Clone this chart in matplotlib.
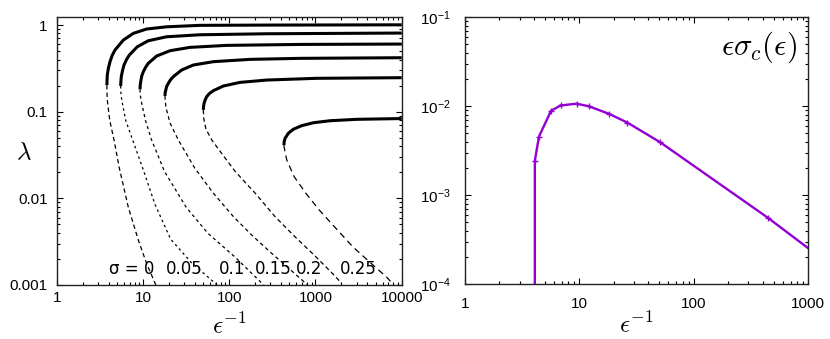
import matplotlib
matplotlib.use('Agg')
import matplotlib.pyplot as plt
from matplotlib.ticker import FixedLocator, FixedFormatter, LogLocator, NullFormatter

plt.rcParams['font.family'] = ['Liberation Sans', 'DejaVu Sans']
plt.rcParams['mathtext.fontset'] = 'cm'

# ---------------- data: left panel (lambda vs 1/eps) ----------------
sigma_labels = ['σ = 0', '0.05', '0.1', '0.15', '0.2', '0.25']
label_x = [7.4, 30.1, 108, 325, 847, 3140]
label_y = 0.00155

upper_x = [
    [3.82, 3.84, 3.86, 3.97, 4.15, 4.40, 4.74, 5.92, 7.73, 11.0, 18.8, 45.8, 272, 10000],
    [5.52, 5.55, 5.61, 5.78, 6.03, 6.43, 6.95, 8.61, 11.5, 18.8, 45.8, 272, 10000],
    [9.25, 9.29, 9.42, 9.66, 10.09, 10.7, 11.5, 14.4, 20.6, 35.1, 93.5, 662, 10000],
    [18.0, 18.1, 18.4, 18.8, 19.7, 20.9, 22.5, 28.1, 38.4, 65.5, 174, 662, 10000],
    [50.1, 50.4, 51.1, 52.5, 54.8, 58.9, 65.5, 85.5, 133, 272, 1033, 10000],
    [431, 434, 444, 485, 553, 692, 946, 1476, 3006, 10000],
]
upper_lam = [
    [0.203, 0.234, 0.265, 0.316, 0.378, 0.447, 0.515, 0.671, 0.802, 0.900, 0.955, 0.993, 1.0, 1.007],
    [0.198, 0.224, 0.254, 0.295, 0.346, 0.398, 0.451, 0.562, 0.659, 0.733, 0.773, 0.794, 0.809],
    [0.181, 0.200, 0.222, 0.257, 0.289, 0.324, 0.361, 0.439, 0.506, 0.553, 0.583, 0.598, 0.604],
    [0.152, 0.166, 0.178, 0.195, 0.213, 0.234, 0.254, 0.303, 0.346, 0.378, 0.402, 0.413, 0.420],
    [0.105, 0.115, 0.125, 0.136, 0.149, 0.162, 0.175, 0.198, 0.218, 0.232, 0.243, 0.247],
    [0.0412, 0.0452, 0.0493, 0.0564, 0.0627, 0.0690, 0.0746, 0.0787, 0.0817, 0.0834],
]
lower_x = [
    [3.82, 3.83, 3.86, 4.12, 4.62, 5.32, 6.76, 8.83, 11.0, 14.1],
    [5.52, 5.55, 5.68, 6.31, 7.59, 10.0, 13.8, 20.9, 36.3, 72.4],
    [9.25, 9.29, 9.66, 10.7, 12.6, 17.8, 31.6, 56.2, 117.5, 251],
    [18.0, 18.1, 18.5, 20.6, 25.7, 39.8, 65.5, 112, 182, 309, 490, 692, 813],
    [50.1, 50.7, 53.7, 63.1, 93.3, 117.5, 200, 339, 575, 1000, 1698, 1995],
    [431, 436, 447, 465, 566, 773, 1104, 1722, 2692, 4198, 6699, 7413],
]
lower_lam = [
    [0.203, 0.166, 0.1365, 0.0794, 0.0472, 0.0224, 0.00794, 0.00331, 0.00178, 0.001],
    [0.198, 0.166, 0.1365, 0.0794, 0.0472, 0.0219, 0.00851, 0.00339, 0.00182, 0.001],
    [0.181, 0.158, 0.126, 0.0794, 0.0472, 0.0204, 0.00794, 0.00398, 0.00209, 0.001],
    [0.152, 0.135, 0.112, 0.0741, 0.0472, 0.0224, 0.01146, 0.00615, 0.00378, 0.00233, 0.00156, 0.00115, 0.001],
    [0.105, 0.0832, 0.0631, 0.0468, 0.0277, 0.0204, 0.01148, 0.00617, 0.00363, 0.00214, 0.00126, 0.00105],
    [0.0412, 0.0378, 0.0331, 0.0277, 0.0178, 0.01146, 0.00735, 0.00452, 0.00278, 0.00186, 0.00123, 0.0011],
]
dash_styles = [(3.5, 2.5), (2.0, 2.5), (2.5, 2.5), (3.0, 2.5), (3.5, 2.5), (5.0, 3.5)]

left_xticks = [1, 10, 100, 1000, 10000]
left_xticklabels = ['1', '10', '100', '1000', '10000']
left_yticks = [0.001, 0.01, 0.1, 1]
left_yticklabels = ['0.001', '0.01', '0.1', '1']

# ---------------- data: right panel (eps*sigma_c vs 1/eps) ----------------
c_x = [4.08, 4.08, 4.43, 5.65, 6.86, 9.47, 12.1, 18.3, 26.3, 50.7, 443, 1000]
c_y = [1e-6, 2.45e-3, 4.56e-3, 8.9e-3, 1.023e-2, 1.07e-2, 1.0e-2, 8.2e-3, 6.55e-3, 3.95e-3, 5.6e-4, 2.54e-4]
right_xticks = [1, 10, 100, 1000]
right_xticklabels = ['1', '10', '100', '1000']
right_yticks = [1e-4, 1e-3, 1e-2, 1e-1]
right_yticklabels = [r'$\mathregular{10^{-4}}$', r'$\mathregular{10^{-3}}$',
                     r'$\mathregular{10^{-2}}$', r'$\mathregular{10^{-1}}$']

fig = plt.figure(figsize=(8.3, 3.39), dpi=100)
ax1 = fig.add_axes([0.0683, 0.1593, 0.4157, 0.7897])
ax2 = fig.add_axes([0.5602, 0.1614, 0.4136, 0.7876])

def style_axes(ax, xpad, ypad):
    ax.set_xscale('log')
    ax.set_yscale('log')
    ax.tick_params(which='both', direction='in', top=True, right=True,
                   labelsize=11, width=0.8, color='black')
    ax.tick_params(which='major', length=4.5)
    ax.tick_params(which='minor', length=2.3)
    ax.tick_params(axis='x', which='major', pad=xpad)
    ax.tick_params(axis='y', which='major', pad=ypad)
    for s in ax.spines.values():
        s.set_linewidth(1.0)
        s.set_color('#222222')

# ---- left panel ----
style_axes(ax1, 4.5, 6.5)
for i in range(len(sigma_labels)):
    ax1.plot(upper_x[i], upper_lam[i], color='black', lw=2.2, solid_capstyle='butt')
    ax1.plot(lower_x[i], lower_lam[i], color='black', lw=0.9, linestyle=(0, dash_styles[i]))
    ax1.text(label_x[i], label_y, sigma_labels[i], ha='center', va='center',
             fontsize=12, family=['DejaVu Sans'])
ax1.set_xlim(1, 10000)
ax1.set_ylim(0.001, 1.23)
ax1.xaxis.set_major_locator(FixedLocator(left_xticks))
ax1.xaxis.set_major_formatter(FixedFormatter(left_xticklabels))
ax1.yaxis.set_major_locator(FixedLocator(left_yticks))
ax1.yaxis.set_major_formatter(FixedFormatter(left_yticklabels))
for a in (ax1.xaxis, ax1.yaxis):
    a.set_minor_locator(LogLocator(base=10, subs=range(2, 10), numticks=20))
    a.set_minor_formatter(NullFormatter())
ax1.text(0.5, -0.183, r'$\epsilon^{-1}$', transform=ax1.transAxes, ha='center',
         va='baseline', fontsize=18)
ax1.text(-0.095, 0.497, r'$\lambda$', transform=ax1.transAxes, ha='center',
         va='center', fontsize=18)

# ---- right panel ----
style_axes(ax2, 9, 10)
ax2.plot(c_x, c_y, color='#9400D3', lw=1.7, marker='+', ms=4, mew=1.0,
         markevery=list(range(1, len(c_x) - 1)))
ax2.set_xlim(1, 1000)
ax2.set_ylim(1e-4, 1e-1)
ax2.xaxis.set_major_locator(FixedLocator(right_xticks))
ax2.xaxis.set_major_formatter(FixedFormatter(right_xticklabels))
ax2.yaxis.set_major_locator(FixedLocator(right_yticks))
ax2.yaxis.set_major_formatter(FixedFormatter(right_yticklabels))
for a in (ax2.xaxis, ax2.yaxis):
    a.set_minor_locator(LogLocator(base=10, subs=range(2, 10), numticks=20))
    a.set_minor_formatter(NullFormatter())
ax2.text(0.5, -0.184, r'$\epsilon^{-1}$', transform=ax2.transAxes, ha='center',
         va='baseline', fontsize=18)
ax2.text(0.967, 0.889, r'$\epsilon\sigma_c(\epsilon)$', transform=ax2.transAxes,
         ha='right', va='center', fontsize=22)

fig.savefig('out.png', dpi=100)
